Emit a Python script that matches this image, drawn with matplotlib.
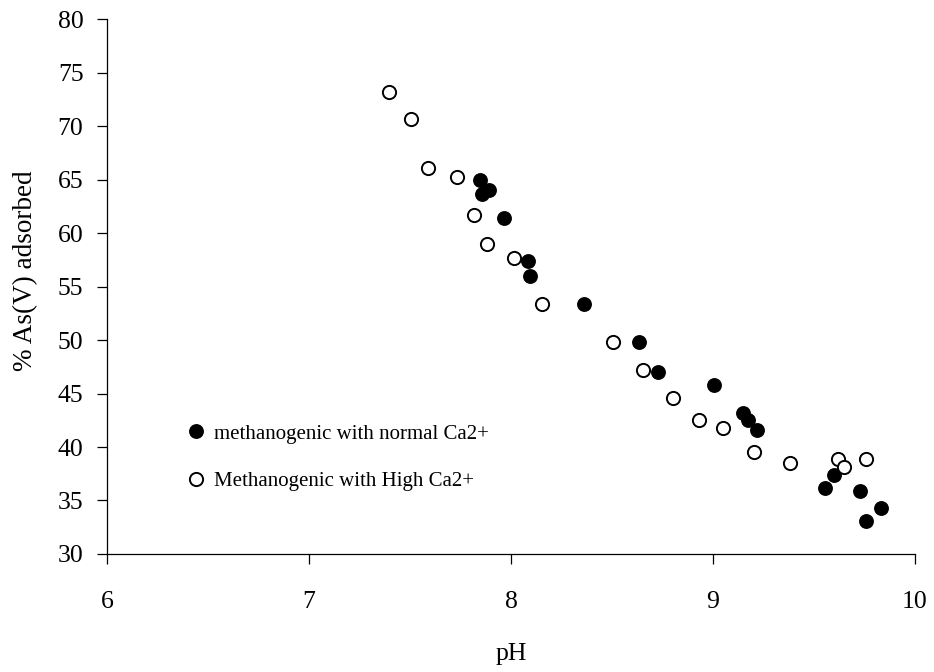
import matplotlib
matplotlib.use("Agg")
import matplotlib.pyplot as plt

plt.rcParams['font.family'] = ['Liberation Serif', 'DejaVu Serif']

# Methanogenic, normal Ca2+
ph_normal = [7.847, 7.893, 7.855, 7.965, 8.085, 8.094, 8.361, 8.635, 8.729, 9.005,
             9.150, 9.171, 9.216, 9.600, 9.556, 9.730, 9.833, 9.757]
ads_normal = [65.0, 64.0, 63.6, 61.4, 57.4, 56.0, 53.4, 49.8, 47.0, 45.8,
              43.2, 42.5, 41.6, 37.4, 36.2, 35.9, 34.3, 33.1]

# Methanogenic, high Ca2+
ph_high = [7.394, 7.503, 7.587, 7.731, 7.817, 7.880, 8.016, 8.156, 8.506, 8.653,
           8.800, 8.931, 9.050, 9.204, 9.381, 9.620, 9.650, 9.760]
ads_high = [73.2, 70.7, 66.1, 65.2, 61.7, 59.0, 57.7, 53.4, 49.8, 47.2,
            44.6, 42.5, 41.8, 39.5, 38.5, 38.9, 38.1, 38.9]

x_ticks = [6, 7, 8, 9, 10]
y_ticks = [30, 35, 40, 45, 50, 55, 60, 65, 70, 75, 80]

fig = plt.figure(figsize=(9.34, 6.72), dpi=100)
ax = fig.add_axes([0.1146, 0.1756, 0.8650, 0.7961])

ax.plot(ph_normal, ads_normal, 'o', ms=9.5, mfc='black', mec='black', mew=1.2,
        linestyle='none', label='methanogenic with normal Ca2+')
ax.plot(ph_high, ads_high, 'o', ms=9.5, mfc='white', mec='black', mew=1.4,
        linestyle='none', label='Methanogenic with High Ca2+')

ax.set_xlim(6, 10)
ax.set_ylim(30, 80)
ax.set_xticks(x_ticks)
ax.set_yticks(y_ticks)

for side in ('top', 'right'):
    ax.spines[side].set_visible(False)
for side in ('left', 'bottom'):
    ax.spines[side].set_linewidth(0.9)

ax.tick_params(axis='both', direction='out', length=7, width=0.9, labelsize=18.5)
ax.tick_params(axis='x', pad=20)
ax.tick_params(axis='y', pad=10)

ax.set_xlabel('pH', fontsize=18.5, labelpad=21)
ax.set_ylabel('% As(V) adsorbed', fontsize=19.5)
ax.yaxis.set_label_coords(-0.085, 0.53)

ax.legend(loc='center left', bbox_to_anchor=(0.100, 0.180), frameon=False,
          fontsize=15, handlelength=0.8, handletextpad=0.45, labelspacing=1.35,
          borderpad=0, borderaxespad=0)

fig.savefig('out.png', dpi=100)
